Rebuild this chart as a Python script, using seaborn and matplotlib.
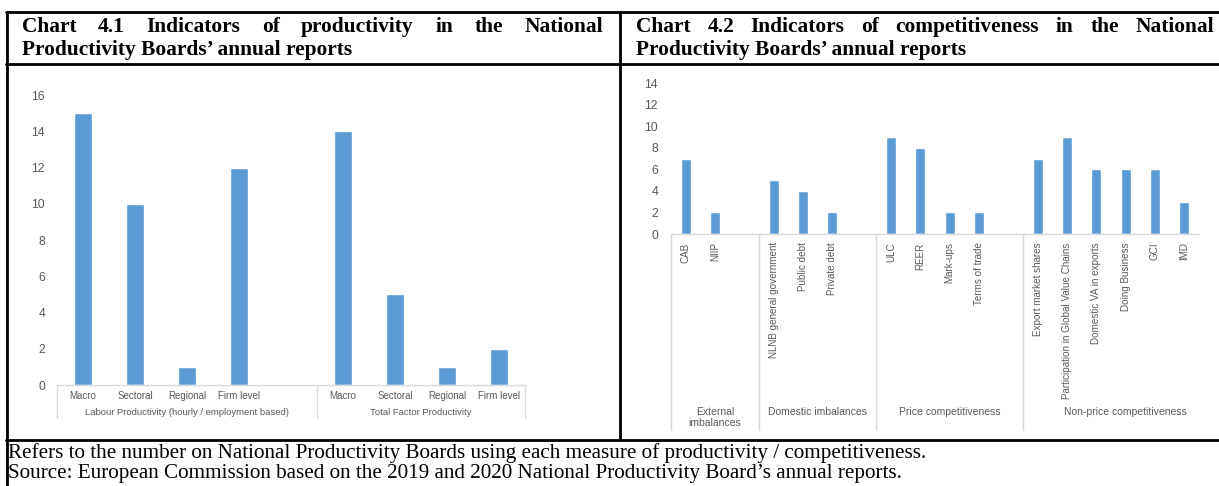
import matplotlib
matplotlib.use("Agg")
import numpy as np
import pandas as pd
import matplotlib.pyplot as plt
from matplotlib.lines import Line2D
import seaborn as sns

# --- Chart 4.1: productivity indicators ---
lp_items = ["Macro", "Sectoral", "Regional", "Firm level"]
lp_values = [15, 10, 1, 12]
tfp_items = ["Macro", "Sectoral", "Regional", "Firm level"]
tfp_values = [14, 5, 1, 2]
prod_groups = ["Labour Productivity (hourly / employment based)", "Total Factor Productivity"]
prod_ticks = [0, 2, 4, 6, 8, 10, 12, 14, 16]

# --- Chart 4.2: competitiveness indicators ---
ext_items = ["CAB", "NIIP"]
ext_values = [7, 2]
dom_items = ["NLNB general government", "Public debt", "Private debt"]
dom_values = [5, 4, 2]
price_items = ["ULC", "REER", "Mark-ups", "Terms of trade"]
price_values = [9, 8, 2, 2]
nonprice_items = ["Export market shares", "Participation in Global Value Chains",
                  "Domestic VA in exports", "Doing Business", "GCI", "IMD"]
nonprice_values = [7, 9, 6, 6, 6, 3]
comp_groups = ["External\nimbalances", "Domestic imbalances",
               "Price competitiveness", "Non-price competitiveness"]
comp_ticks = [0, 2, 4, 6, 8, 10, 12, 14]

W, H = 1219, 486
BAR = "#5B9BD5"
GREY_TXT = "#595959"
GREY_LN = "#D9D9D9"
EXCEL_FONT = "Liberation Sans"
SERIF = "Liberation Serif"

sns.set_theme(style="white")
plt.rcParams["font.family"] = [EXCEL_FONT, "DejaVu Sans"]


def build_frame(groups):
    """groups: list of (group name, items, values, trailing empty slots)."""
    rows, order, labels, spans = [], [], [], []
    for gi, (gname, items, vals, n_empty) in enumerate(groups):
        start = len(order)
        for item, v in zip(items, vals):
            key = f"{gi}|{item}"
            rows.append({"key": key, "value": v})
            order.append(key)
            labels.append(item)
        for k in range(n_empty):
            order.append(f"{gi}|_gap{k}")
            labels.append("")
        spans.append((gname, start, len(order) - 1))
    return pd.DataFrame(rows), order, labels, spans


def px_axes(x0, x1, y_top, y_base):
    return fig.add_axes([x0 / W, (H - y_base) / H, (x1 - x0) / W, (y_base - y_top) / H])


def style_axes(ax, ticks, ylabel_pad):
    sns.despine(ax=ax, left=True)
    ax.spines["bottom"].set_color(GREY_LN)
    ax.spines["bottom"].set_linewidth(1.0)
    ax.set_ylim(ticks[0], ticks[-1])
    ax.set_yticks(ticks)
    ax.tick_params(axis="y", length=0, pad=ylabel_pad, labelsize=8.7, labelcolor=GREY_TXT)
    ax.set_xlabel("")
    ax.set_ylabel("")


def group_lines(ax, spans, y_bottom_frac, last_edge=True):
    edges = [spans[0][1] - 0.5] + [s[2] + 0.5 for s in spans]
    if not last_edge:
        edges = edges[:-1]
    for e in edges:
        ax.axvline(e, ymin=y_bottom_frac, ymax=0, color=GREY_LN, lw=1.0, clip_on=False)


fig = plt.figure(figsize=(W / 100, H / 100), dpi=100)

# ---------------- left chart ----------------
df_p, order_p, labels_p, spans_p = build_frame([
    (prod_groups[0], lp_items, lp_values, 1),
    (prod_groups[1], tfp_items, tfp_values, 0),
])
axL = px_axes(57, 525, 95, 385)
sns.barplot(data=df_p, x="key", y="value", order=order_p, color=BAR,
            width=0.33, saturation=1, ax=axL)
style_axes(axL, prod_ticks, 8.6)
axL.set_xticks(range(len(order_p)))
axL.set_xticklabels(labels_p)
axL.set_xlim(-0.5, len(order_p) - 0.5)
axL.tick_params(axis="x", length=0, pad=4, labelsize=7, labelcolor=GREY_TXT)
hL = 290
group_lines(axL, spans_p, -33 / hL)
for gname, a, b in spans_p:
    axL.text((a + b) / 2, -27 / hL, gname, transform=axL.get_xaxis_transform(),
             ha="center", va="center", fontsize=6.8, color=GREY_TXT)

# ---------------- right chart ----------------
df_c, order_c, labels_c, spans_c = build_frame([
    (comp_groups[0], ext_items, ext_values, 1),
    (comp_groups[1], dom_items, dom_values, 1),
    (comp_groups[2], price_items, price_values, 1),
    (comp_groups[3], nonprice_items, nonprice_values, 1),
])
axR = px_axes(671, 1199, 83, 234)
sns.barplot(data=df_c, x="key", y="value", order=order_c, color=BAR,
            width=0.33, saturation=1, ax=axR)
style_axes(axR, comp_ticks, 9.4)
axR.set_xticks(range(len(order_c)))
axR.set_xticklabels(labels_c, rotation=90, va="top", ha="center")
# the last (empty) slot of the final group is cut off in the original
axR.set_xlim(-0.5, len(order_c) - 1.5)
axR.tick_params(axis="x", length=0, pad=6, labelsize=7.1, labelcolor=GREY_TXT)
hR = 151
group_lines(axR, spans_c, -196 / hR, last_edge=False)
for gname, a, b in spans_c:
    axR.text((a + b) / 2, -173 / hR, gname, transform=axR.get_xaxis_transform(),
             ha="center", va="top", fontsize=7.5, color=GREY_TXT, linespacing=1.1)

# ---------------- table frame ----------------
def hline(y, x0, x1, lw=2.0):
    fig.add_artist(Line2D([x0 / W, x1 / W], [1 - y / H, 1 - y / H], color="black", lw=lw))


def vline(x, y0, y1, lw=2.0):
    fig.add_artist(Line2D([x / W, x / W], [1 - y0 / H, 1 - y1 / H], color="black", lw=lw))


hline(12.5, 6, W)
hline(64, 6, W)
hline(440, 6, W)
vline(7, 12, H)
vline(620, 12, 440)

# ---------------- titles (justified first line) ----------------
renderer = fig.canvas.get_renderer()


def justified(words, x0, x1, y, **kw):
    txts = [fig.text(0, 1 - y / H, w, va="center", ha="left", **kw) for w in words]
    widths = [t.get_window_extent(renderer).width for t in txts]
    gap = (x1 - x0 - sum(widths)) / (len(words) - 1)
    x = x0
    for t, w in zip(txts, widths):
        t.set_x(x / W)
        x += w + gap


title_kw = dict(fontsize=15.4, fontweight="bold", family=SERIF, color="black")
justified("Chart 4.1 Indicators of productivity in the National".split(), 22, 603, 27, **title_kw)
fig.text(22 / W, 1 - 50 / H, "Productivity Boards\u2019 annual reports", va="center", ha="left", **title_kw)
justified("Chart 4.2 Indicators of competitiveness in the National".split(), 636, 1214, 27, **title_kw)
fig.text(636 / W, 1 - 50 / H, "Productivity Boards\u2019 annual reports", va="center", ha="left", **title_kw)

note_kw = dict(fontsize=15.2, family=SERIF, color="black", va="center", ha="left")
fig.text(8 / W, 1 - 453 / H,
         "Refers to the number on National Productivity Boards using each measure of productivity / competitiveness.",
         **note_kw)
fig.text(8 / W, 1 - 473.5 / H,
         "Source: European Commission based on the 2019 and 2020 National Productivity Board\u2019s annual reports.",
         **note_kw)

fig.savefig("out.png", dpi=100)
